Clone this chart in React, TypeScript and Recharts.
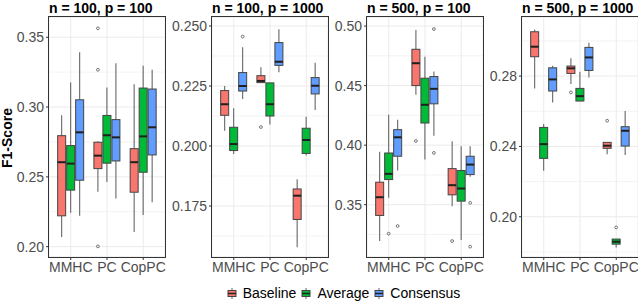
import React from "react";
import { BarChart, Bar, XAxis, YAxis, CartesianGrid } from "recharts";

const methods = ["MMHC", "PC", "CopPC"];
const groups = ["Baseline", "Average", "Consensus"];
const colors = ["#F8766D", "#00BA38", "#619CFF"];

const titles = [
  "n = 100, p = 100",
  "n = 100, p = 1000",
  "n = 500, p = 100",
  "n = 500, p = 1000",
];

// box stats per method: [lower whisker, q1, median, q3, upper whisker]
const p1Baseline = [
  [0.2069, 0.2221, 0.2605, 0.2795, 0.2941],
  [0.2393, 0.2559, 0.2652, 0.2748, 0.2755],
  [0.2105, 0.239, 0.2605, 0.2702, 0.3164],
];
const p1Average = [
  [0.2243, 0.2405, 0.2595, 0.2724, 0.3176],
  [0.2464, 0.2598, 0.2798, 0.294, 0.314],
  [0.2226, 0.2533, 0.279, 0.3136, 0.3295],
];
const p1Consensus = [
  [0.2221, 0.2476, 0.2819, 0.3052, 0.3393],
  [0.2345, 0.2614, 0.2783, 0.291, 0.3314],
  [0.2319, 0.2657, 0.2855, 0.3129, 0.3267],
];
const p1Outliers: [string, string, number][] = [
  ["PC", "Baseline", 0.3564],
  ["PC", "Baseline", 0.3267],
  ["PC", "Baseline", 0.2002],
];

const p2Baseline = [
  [0.2064, 0.2128, 0.2174, 0.2231, 0.225],
  [0.2264, 0.2264, 0.2271, 0.2293, 0.2328],
  [0.1578, 0.1694, 0.1793, 0.1821, 0.1861],
];
const p2Average = [
  [0.1967, 0.1981, 0.2008, 0.2078, 0.2157],
  [0.209, 0.2125, 0.2174, 0.2263, 0.2263],
  [0.196, 0.1969, 0.2025, 0.2074, 0.2122],
];
const p2Consensus = [
  [0.2196, 0.2229, 0.225, 0.2306, 0.2411],
  [0.2307, 0.2336, 0.2351, 0.2431, 0.2486],
  [0.215, 0.2217, 0.2251, 0.2285, 0.2347],
];
const p2Outliers: [string, string, number][] = [
  ["MMHC", "Consensus", 0.2456],
  ["PC", "Baseline", 0.2079],
];

const p3Baseline = [
  [0.3195, 0.341, 0.3563, 0.3689, 0.3945],
  [0.4423, 0.45, 0.4688, 0.4805, 0.4967],
  [0.3488, 0.3583, 0.3664, 0.3803, 0.4032],
];
const p3Average = [
  [0.3558, 0.3711, 0.3759, 0.3934, 0.4255],
  [0.3879, 0.4186, 0.4339, 0.4562, 0.4743],
  [0.3204, 0.353, 0.3636, 0.3787, 0.399],
];
const p3Consensus = [
  [0.3787, 0.3907, 0.4066, 0.413, 0.4213],
  [0.4079, 0.4347, 0.4473, 0.4576, 0.4618],
  [0.3735, 0.3753, 0.3837, 0.3907, 0.399],
];
const p3Outliers: [string, string, number][] = [
  ["MMHC", "Average", 0.3257],
  ["MMHC", "Consensus", 0.3321],
  ["PC", "Baseline", 0.4035],
  ["PC", "Consensus", 0.3935],
  ["PC", "Consensus", 0.4975],
  ["CopPC", "Baseline", 0.3195],
  ["CopPC", "Consensus", 0.3516],
  ["CopPC", "Consensus", 0.3148],
];

const p4Baseline = [
  [0.273, 0.291, 0.2967, 0.3052, 0.3065],
  [0.2755, 0.2815, 0.2844, 0.2857, 0.2901],
  [0.2356, 0.2389, 0.2404, 0.2423, 0.2423],
];
const p4Average = [
  [0.2262, 0.2332, 0.2413, 0.2508, 0.2527],
  [0.2658, 0.2658, 0.2686, 0.273, 0.2825],
  [0.1825, 0.1844, 0.1858, 0.1873, 0.1873],
];
const p4Consensus = [
  [0.265, 0.2715, 0.2781, 0.2847, 0.2859],
  [0.2792, 0.2832, 0.2906, 0.2963, 0.299],
  [0.2351, 0.2402, 0.2489, 0.2512, 0.2601],
];
const p4Outliers: [string, string, number][] = [
  ["PC", "Baseline", 0.2707],
  ["CopPC", "Baseline", 0.2546],
  ["CopPC", "Average", 0.1939],
];

const p1Ticks = [0.2, 0.25, 0.3, 0.35];
const p2Ticks = [0.175, 0.2, 0.225, 0.25];
const p3Ticks = [0.35, 0.4, 0.45, 0.5];
const p4Ticks = [0.2, 0.24, 0.28];
const p1Minor = [0.225, 0.275, 0.325];
const p2Minor = [0.1625, 0.1875, 0.2125, 0.2375];
const p3Minor = [0.325, 0.375, 0.425, 0.475];
const p4Minor = [0.18, 0.22, 0.26, 0.3];

const FONT = "'Liberation Sans', Arial, Helvetica, sans-serif";

function buildRows(stats: number[][][], outliers: [string, string, number][]) {
  return methods.map((m, i) => {
    const row: any = { method: m };
    groups.forEach((g, j) => {
      const s = stats[j][i];
      row[g] = {
        lo: s[0],
        q1: s[1],
        med: s[2],
        q3: s[3],
        hi: s[4],
        out: outliers.filter((o) => o[0] === m && o[1] === g).map((o) => o[2]),
      };
    });
    return row;
  });
}

const panels = [
  {
    rows: buildRows([p1Baseline, p1Average, p1Consensus], p1Outliers),
    domain: [0.1926, 0.3645],
    ticks: p1Ticks,
    minor: p1Minor,
    digits: 2,
    left: 49,
  },
  {
    rows: buildRows([p2Baseline, p2Average, p2Consensus], p2Outliers),
    domain: [0.15375, 0.25375],
    ticks: p2Ticks,
    minor: p2Minor,
    digits: 3,
    left: 212,
  },
  {
    rows: buildRows([p3Baseline, p3Average, p3Consensus], p3Outliers),
    domain: [0.3061, 0.5076],
    ticks: p3Ticks,
    minor: p3Minor,
    digits: 2,
    left: 367,
  },
  {
    rows: buildRows([p4Baseline, p4Average, p4Consensus], p4Outliers),
    domain: [0.1771, 0.3136],
    ticks: p4Ticks,
    minor: p4Minor,
    digits: 2,
    left: 522,
  },
];

const PLOT_W = 116;
const AXIS_W = 44;
const RIGHT_PAD = 16;
// ggplot-like discrete expansion (0.6 of a category on each side)
const X_PAD = (PLOT_W * (0.6 - 0.5)) / 3.2;

// draws one box + whiskers + outliers, using the range bar [lo, hi] as the scale reference
const renderBox = (props: any, g: string, color: string) => {
  const { x, y, width, height, payload } = props;
  const s = payload[g];
  const span = s.hi - s.lo;
  const py = (v: number) => y + (height * (s.hi - v)) / span;
  const cx = x + width / 2;
  const bx = x + 0.5;
  const bw = width - 1;
  return (
    <g>
      <line x1={cx} x2={cx} y1={py(s.hi)} y2={py(s.q3)} stroke="#666" strokeWidth={1.1} />
      <line x1={cx} x2={cx} y1={py(s.q1)} y2={py(s.lo)} stroke="#666" strokeWidth={1.1} />
      <rect
        x={bx}
        y={py(s.q3)}
        width={bw}
        height={Math.max(py(s.q1) - py(s.q3), 0.5)}
        fill={color}
        stroke="#444"
        strokeWidth={1}
      />
      <line x1={bx} x2={bx + bw} y1={py(s.med)} y2={py(s.med)} stroke="#1f1f1f" strokeWidth={2} />
      {s.out.map((v: number, k: number) => (
        <circle key={k} cx={cx} cy={py(v)} r={1.4} fill="none" stroke="#555" strokeWidth={0.8} />
      ))}
    </g>
  );
};

const LegendKey = ({ color }: { color: string }) => (
  <svg width={10} height={13} style={{ display: "block" }}>
    <line x1={5} x2={5} y1={1} y2={3.5} stroke="#666" />
    <line x1={5} x2={5} y1={9.5} y2={12} stroke="#666" />
    <rect x={1} y={3.5} width={8} height={6} fill={color} stroke="#444" />
    <line x1={1} x2={9} y1={6.5} y2={6.5} stroke="#222" strokeWidth={1.5} />
  </svg>
);

export default function App() {
  return (
    <div
      style={{
        position: "absolute",
        left: 0,
        top: 0,
        width: 638,
        height: 302,
        overflow: "hidden",
        background: "#fff",
        fontFamily: FONT,
      }}
    >
      {/* y-axis title */}
      <div
        style={{
          position: "absolute",
          left: 7 - 50,
          top: 138 - 8,
          width: 100,
          lineHeight: "16px",
          textAlign: "center",
          fontSize: 14,
          fontWeight: "bold",
          color: "#000",
          transform: "rotate(-90deg)",
        }}
      >
        F1-Score
      </div>

      {panels.map((p, i) => (
        <React.Fragment key={i}>
          <div
            style={{
              position: "absolute",
              left: p.left,
              top: -0.5,
              lineHeight: "16px",
              fontSize: 14,
              fontWeight: "bold",
              color: "#000",
              whiteSpace: "nowrap",
            }}
          >
            {titles[i]}
          </div>
          <div style={{ position: "absolute", left: p.left - AXIS_W, top: 0 }}>
            <BarChart
              width={AXIS_W + PLOT_W + RIGHT_PAD}
              height={280}
              data={p.rows}
              margin={{ top: 17, right: RIGHT_PAD, bottom: 3, left: 0 }}
              barCategoryGap="12.5%"
              barGap={0}
            >
              <CartesianGrid stroke="#EBEBEB" strokeWidth={1} />
              <CartesianGrid
                stroke="#EBEBEB"
                strokeWidth={0.6}
                vertical={false}
                yAxisId="minor"
              />
              <XAxis
                dataKey="method"
                interval={0}
                axisLine={false}
                padding={{ left: X_PAD, right: X_PAD }}
                tickSize={3}
                tickLine={{ stroke: "#333" }}
                tick={{ fontSize: 14, fill: "#4D4D4D", fontFamily: FONT }}
                height={20}
              />
              <YAxis
                type="number"
                domain={p.domain}
                ticks={p.ticks}
                allowDataOverflow
                axisLine={false}
                tickSize={3}
                tickMargin={2}
                tickLine={{ stroke: "#333" }}
                tick={{ fontSize: 14, fill: "#4D4D4D", fontFamily: FONT }}
                tickFormatter={(v: number) => v.toFixed(p.digits)}
                width={AXIS_W}
              />
              <YAxis
                yAxisId="minor"
                type="number"
                domain={p.domain}
                ticks={p.minor}
                allowDataOverflow
                hide
              />
              {groups.map((g, j) => (
                <Bar
                  key={g}
                  dataKey={(r: any) => [r[g].lo, r[g].hi]}
                  name={g}
                  fill={colors[j]}
                  isAnimationActive={false}
                  shape={(props: any) => renderBox(props, g, colors[j])}
                />
              ))}
            </BarChart>
          </div>
          {/* panel border */}
          <div
            style={{
              position: "absolute",
              left: p.left - 1,
              top: 16,
              width: PLOT_W + 2,
              height: 242,
              border: "1px solid #333",
              boxSizing: "border-box",
              pointerEvents: "none",
            }}
          />
        </React.Fragment>
      ))}

      {/* legend */}
      <div
        style={{
          position: "absolute",
          left: 49,
          width: 589,
          top: 285,
          display: "flex",
          justifyContent: "center",
          alignItems: "center",
          fontSize: 14,
          color: "#000",
          lineHeight: "16px",
        }}
      >
        {groups.map((g, j) => (
          <div key={g} style={{ display: "flex", alignItems: "center", marginRight: j < 2 ? 5 : 0 }}>
            <LegendKey color={colors[j]} />
            <span style={{ marginLeft: 6 }}>{g}</span>
          </div>
        ))}
      </div>
    </div>
  );
}
